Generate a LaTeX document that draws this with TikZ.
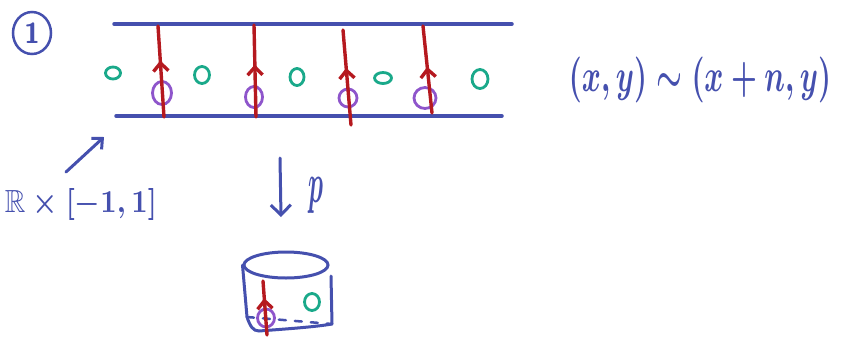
\documentclass[tikz,border=0pt]{standalone}
\usepackage{amssymb}
\usepackage{graphicx}
\usetikzlibrary{arrows.meta,decorations.markings,shapes.geometric}
\definecolor{hblue}{RGB}{69,80,174}
\definecolor{hred}{RGB}{181,25,31}
\definecolor{hpurple}{RGB}{142,85,203}
\definecolor{hgreen}{RGB}{26,169,138}
\begin{document}
\begin{tikzpicture}[x=1pt,y=-1pt,
  bline/.style={hblue,line width=3.5pt,line cap=round},
  rline/.style={hred,line width=3.4pt,line cap=round,postaction={decorate},
    decoration={markings,mark=at position #1 with {\arrow{Straight Barb[length=8pt,width=15pt]}}}},
  pcirc/.style={ellipse,draw=hpurple,line width=2.8pt,inner sep=0pt},
  gcirc/.style={ellipse,draw=hgreen,line width=2.8pt,inner sep=0pt},
  btext/.style={text=hblue,inner sep=0pt}]
\useasboundingbox (0,0) rectangle (841,341);
% circled 1
\node[ellipse,draw=hblue,line width=2.5pt,minimum width=38pt,minimum height=42pt,text=hblue,inner sep=0pt] (one) at (32,33) {\resizebox*{!}{20pt}{\boldmath$\mathsf{1}$}};
% strip
\coordinate (t1) at (114,24); \coordinate (t2) at (512,24);
\coordinate (b1) at (116,116); \coordinate (b2) at (502,116);
\draw[bline] (t1) -- (t2);
\draw[bline] (b1) -- (b2);
% green o's
\node[gcirc,minimum width=15pt,minimum height=12pt] (g1) at (113,73) {};
\node[gcirc,minimum width=15pt,minimum height=17pt] (g2) at (202,75) {};
\node[gcirc,minimum width=14pt,minimum height=17pt] (g3) at (297,77) {};
\node[gcirc,minimum width=17pt,minimum height=11pt] (g4) at (383,78) {};
\node[gcirc,minimum width=16pt,minimum height=19pt] (g5) at (480,79) {};
% purple circles
\node[pcirc,minimum width=19pt,minimum height=23pt] (p1) at (162,93) {};
\node[pcirc,minimum width=17pt,minimum height=21pt] (p2) at (254,97) {};
\node[pcirc,minimum width=18pt,minimum height=18pt] (p3) at (348,98) {};
\node[pcirc,minimum width=22pt,minimum height=21pt] (p4) at (425,98) {};
% red lines
\coordinate (r1a) at (164,117); \coordinate (r1b) at (158,26);
\coordinate (r2a) at (256,117); \coordinate (r2b) at (254,25);
\coordinate (r3a) at (351,125); \coordinate (r3b) at (343,30);
\coordinate (r4a) at (432,113); \coordinate (r4b) at (423,26);
\draw[rline=0.62] (r1a) -- (r1b);
\draw[rline=0.57] (r2a) -- (r2b);
\draw[rline=0.6] (r3a) -- (r3b);
\draw[rline=0.53] (r4a) -- (r4b);
% equivalence
\node[btext] (eq) at (700,80) {\resizebox*{262pt}{46pt}{\boldmath$(x,y)\sim(x+n,y)$}};
% R x [-1,1]
\node[btext] (rr) at (81,204) {\resizebox*{152pt}{32pt}{\boldmath$\mathbb{R}\times[-1,1]$}};
\coordinate (ra) at (66,172); \coordinate (rb) at (104,137);
\draw[bline,line width=3pt,-{Straight Barb[length=8pt,width=15pt]}] (ra) -- (rb);
% projection
\coordinate (pa) at (280,158); \coordinate (pb) at (281,217);
\draw[bline,line width=3pt,-{Straight Barb[length=10pt,width=20pt]}] (pa) -- (pb);
\node[btext] (pl) at (316,195) {\resizebox*{15pt}{36pt}{\boldmath$p$}};
% cylinder
\node[ellipse,draw=hblue,line width=3pt,minimum width=84pt,minimum height=26pt] (cyl) at (286,265) {};
\coordinate (bl) at (247,317); \coordinate (br) at (332,324);
\coordinate (rt) at (331,276);
\draw[bline,line width=3pt] (cyl.west) -- (bl);
\draw[bline,line width=3pt] (rt) -- (br);
\draw[bline,line width=3pt] (bl) .. controls (250,326) and (253,331) .. (259,331) .. controls (285,329) and (315,327) .. (br);
\draw[bline,line width=2.5pt,dash pattern=on 7pt off 9pt] (bl) -- (br);
\node[gcirc,minimum width=15pt,minimum height=17pt] (g6) at (312,302) {};
\node[pcirc,minimum width=17pt,minimum height=18pt] (p6) at (266,318) {};
\coordinate (c1) at (267,335); \coordinate (c2) at (263,281);
\draw[rline=0.68] (c1) -- (c2);
\end{tikzpicture}
\end{document}
